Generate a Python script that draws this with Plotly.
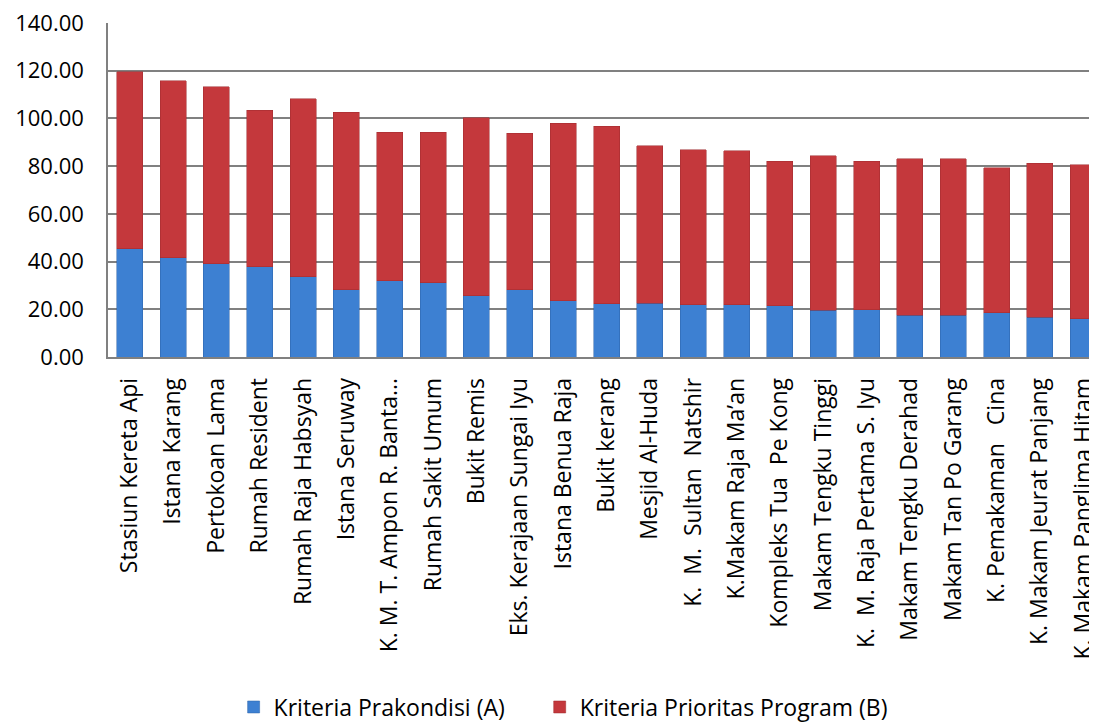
import plotly.graph_objects as go

categories = [
    "Stasiun Kereta Api", "Istana Karang", "Pertokoan Lama", "Rumah Resident",
    "Rumah Raja Habsyah", "Istana Seruway", "K. M. T. Ampon R. Banta...",
    "Rumah Sakit Umum", "Bukit Remis", "Eks. Kerajaan Sungai Iyu",
    "Istana Benua Raja", "Bukit kerang", "Mesjid Al-Huda", "K.  M.  Sultan  Natshir",
    "K.Makam Raja Ma’an", "Kompleks Tua  Pe Kong", "Makam Tengku Tinggi",
    "K.  M. Raja Pertama S. Iyu", "Makam Tengku Derahad", "Makam Tan Po Garang",
    "K. Pemakaman   Cina", "K. Makam Jeurat Panjang", "K. Makam Panglima Hitam",
]

kriteria_a = [45.3, 41.5, 39.0, 37.8, 33.7, 28.2, 31.9, 31.1, 25.7, 28.2,
              23.6, 22.4, 22.6, 21.9, 21.9, 21.5, 19.5, 19.9, 17.4, 17.4,
              18.6, 16.6, 16.1]
totals = [119.5, 115.8, 113.3, 103.4, 108.2, 102.6, 94.3, 94.3, 100.3, 93.7,
          98.0, 96.8, 88.5, 86.8, 86.4, 82.1, 84.3, 82.1, 83.1, 83.1,
          79.4, 81.3, 80.5]
kriteria_b = [round(t - a, 2) for t, a in zip(totals, kriteria_a)]

y_ticks = [0, 20, 40, 60, 80, 100, 120, 140]

FONT = "Open Sans"

fig = go.Figure()
fig.add_trace(go.Bar(
    x=categories, y=kriteria_a, name="Kriteria Prakondisi (A)",
    marker=dict(color="#3D80D2", line=dict(color="#2C62A8", width=0.5)),
    legend="legend",
))
fig.add_trace(go.Bar(
    x=categories, y=kriteria_b, name="Kriteria Prioritas Program (B)",
    marker=dict(color="#C4383C", line=dict(color="#9E2A2D", width=0.5)),
    legend="legend2",
))

legend_common = dict(
    orientation="h",
    yanchor="middle",
    y=-1.048,
    font=dict(size=23, family=FONT),
    itemwidth=30,
    bgcolor="rgba(0,0,0,0)",
)

fig.update_layout(
    barmode="stack",
    bargap=0.4,
    width=1097, height=722,
    margin=dict(l=100, r=0, t=15, b=373),
    paper_bgcolor="white",
    plot_bgcolor="white",
    font=dict(family=FONT, color="black"),
    showlegend=True,
    legend=dict(x=0.126, xanchor="left", **legend_common),
    legend2=dict(x=0.433, xanchor="left", **legend_common),
)
fig.update_xaxes(
    type="category",
    automargin=False,
    tickangle=-90,
    tickfont=dict(size=23, family=FONT),
    showgrid=False,
    showline=True, linecolor="#808080", linewidth=1.5,
    ticks="",
    ticklabelstandoff=10,
)
fig.update_yaxes(
    range=[0, 140],
    automargin=False,
    tickvals=y_ticks,
    tickformat=".2f",
    tickfont=dict(size=22, family=FONT),
    showgrid=True, gridcolor="#808080", gridwidth=1.5,
    showline=True, linecolor="#808080", linewidth=1.5,
    zeroline=False,
    ticks="",
    ticklabelstandoff=18,
    ticklabeloverflow="allow",
)

fig.write_html("out.html")
